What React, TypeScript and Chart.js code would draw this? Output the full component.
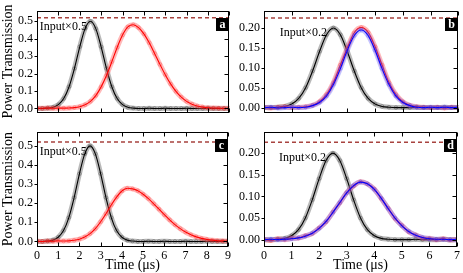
import React, { useEffect, useRef } from "react";
import { Chart, registerables } from "chart.js";

Chart.register(...registerables);

const SERIF = "'Liberation Serif', 'Times New Roman', Times, serif";
Chart.defaults.font.family = SERIF;
Chart.defaults.color = "#000";

// ---------- data ----------
const timeLeft = [0, 0.25, 0.5, 0.75, 1, 1.25, 1.5, 1.75, 2, 2.25, 2.5, 2.75, 3, 3.25, 3.5, 3.75, 4, 4.25, 4.5, 4.75, 5, 5.25, 5.5, 5.75, 6, 6.25, 6.5, 6.75, 7, 7.25, 7.5, 7.75, 8, 8.25, 8.5, 8.75, 9];
const timeRight = [0, 0.25, 0.5, 0.75, 1, 1.25, 1.5, 1.75, 2, 2.25, 2.5, 2.75, 3, 3.25, 3.5, 3.75, 4, 4.25, 4.5, 4.75, 5, 5.25, 5.5, 5.75, 6, 6.25, 6.5, 6.75, 7];

const inputLeft = [0.000, 0.000, 0.002, 0.007, 0.022, 0.057, 0.125, 0.229, 0.354, 0.458, 0.500, 0.458, 0.354, 0.229, 0.125, 0.057, 0.022, 0.007, 0.002, 0.000, 0.000, 0.001, 0.000, 0.000, 0.001, 0.000, 0.000, 0.000, 0.001, 0.000, 0.000, 0.000, 0.001, 0.000, 0.000, 0.000, 0.000];
const outputA = [0.002, 0.001, 0.003, 0.001, 0.002, 0.002, 0.003, 0.005, 0.010, 0.021, 0.041, 0.074, 0.124, 0.189, 0.268, 0.350, 0.421, 0.468, 0.480, 0.464, 0.428, 0.377, 0.316, 0.253, 0.194, 0.141, 0.098, 0.065, 0.041, 0.025, 0.014, 0.008, 0.004, 0.003, 0.002, 0.001, 0.002];
const outputC = [0.002, 0.000, 0.002, 0.001, 0.003, 0.002, 0.003, 0.006, 0.012, 0.023, 0.041, 0.067, 0.103, 0.145, 0.191, 0.232, 0.264, 0.278, 0.275, 0.265, 0.247, 0.224, 0.197, 0.169, 0.140, 0.113, 0.088, 0.067, 0.049, 0.035, 0.024, 0.016, 0.011, 0.007, 0.004, 0.003, 0.002];

const inputRight = [0.000, 0.000, 0.001, 0.003, 0.009, 0.023, 0.050, 0.092, 0.141, 0.183, 0.200, 0.183, 0.141, 0.092, 0.050, 0.023, 0.009, 0.003, 0.001, 0.000, 0.000, 0.000, 0.001, 0.000, 0.000, 0.000, 0.001, 0.000, 0.000];
const outputBRed = [0.001, -0.001, 0.001, 0.002, 0.000, 0.001, 0.002, 0.006, 0.015, 0.033, 0.063, 0.107, 0.150, 0.188, 0.201, 0.189, 0.153, 0.107, 0.063, 0.033, 0.015, 0.006, 0.002, 0.001, 0.000, 0.001, -0.001, 0.001, 0.000];
const outputBBlue = [0.000, 0.001, -0.001, 0.000, 0.001, 0.000, 0.001, 0.005, 0.013, 0.029, 0.058, 0.098, 0.144, 0.181, 0.195, 0.181, 0.144, 0.098, 0.058, 0.029, 0.013, 0.005, 0.001, 0.000, 0.001, 0.000, 0.001, 0.000, 0.001];
const outputDRed = [0.001, -0.002, 0.002, 0.000, 0.003, 0.004, 0.009, 0.014, 0.027, 0.041, 0.064, 0.085, 0.109, 0.124, 0.134, 0.129, 0.117, 0.095, 0.073, 0.049, 0.033, 0.018, 0.011, 0.004, 0.003, 0.000, 0.002, -0.001, 0.001];
const outputDBlue = [0.000, 0.001, 0.000, 0.001, 0.002, 0.004, 0.008, 0.015, 0.026, 0.042, 0.063, 0.086, 0.108, 0.125, 0.133, 0.129, 0.116, 0.096, 0.072, 0.050, 0.032, 0.019, 0.010, 0.005, 0.002, 0.001, 0.001, 0.000, 0.000];

const referenceLeft = 0.52;
const referenceRight = 0.225;

const xTicksLeft = [0, 1, 2, 3, 4, 5, 6, 7, 8, 9];
const xTicksRight = [0, 1, 2, 3, 4, 5, 6, 7];
const yTicksLeft = [0, 0.1, 0.2, 0.3, 0.4, 0.5];
const yTicksRight = [0, 0.05, 0.1, 0.15, 0.2];

const panelLetters = ["a", "b", "c", "d"];
const inputNotes = ["Input\u00d70.5", "Input\u00d70.2"];
const yTitle = "Power Transmission";
const xTitle = "Time (\u03bcs)";

// ---------- styling ----------
type Kind = "black" | "red" | "blue";
const COLORS: Record<Kind, { core: string; marker: string; band: string }> = {
  black: { core: "#000000", marker: "rgba(40,40,40,0.55)", band: "rgba(80,80,80,0.40)" },
  red: { core: "#ff0000", marker: "rgba(255,40,40,0.55)", band: "rgba(255,80,80,0.40)" },
  blue: { core: "#0000ff", marker: "rgba(70,70,255,0.55)", band: "rgba(90,90,255,0.35)" },
};
const ORDER: Record<Kind, number> = { blue: 0, red: 2, black: 4 };

type Series = { x: number[]; y: number[]; kind: Kind };
type PanelSpec = {
  letter: string;
  left: number; top: number; width: number; height: number;
  padding: { left: number; right: number; top: number; bottom: number };
  yWidth: number; xHeight: number;
  showXLabels: boolean; showYTitle: boolean;
  xMax: number; xTicks: number[];
  yMin: number; yMax: number; yTicks: number[]; decimals: number;
  series: Series[];
  reference: number;
  note: string; notePos: { x: number; y: number };
};

const panels: PanelSpec[] = [
  {
    letter: panelLetters[0], left: 0, top: 0, width: 234, height: 123,
    padding: { left: 0, right: 2, top: 1, bottom: 2 }, yWidth: 37, xHeight: 0,
    showXLabels: false, showYTitle: true, xMax: 9, xTicks: xTicksLeft,
    yMin: -0.019, yMax: 0.558, yTicks: yTicksLeft, decimals: 1,
    series: [
      { x: timeLeft, y: inputLeft, kind: "black" },
      { x: timeLeft, y: outputA, kind: "red" },
    ],
    reference: referenceLeft, note: inputNotes[0], notePos: { x: 0.13, y: 0.47 },
  },
  {
    letter: panelLetters[1], left: 234, top: 0, width: 229, height: 123,
    padding: { left: 0, right: 3, top: 1, bottom: 2 }, yWidth: 30, xHeight: 0,
    showXLabels: false, showYTitle: false, xMax: 7, xTicks: xTicksRight,
    yMin: -0.0105, yMax: 0.2421, yTicks: yTicksRight, decimals: 2,
    series: [
      { x: timeRight, y: inputRight, kind: "black" },
      { x: timeRight, y: outputBRed, kind: "red" },
      { x: timeRight, y: outputBBlue, kind: "blue" },
    ],
    reference: referenceRight, note: inputNotes[1], notePos: { x: 0.57, y: 0.188 },
  },
  {
    letter: panelLetters[2], left: 0, top: 121, width: 234, height: 152,
    padding: { left: 0, right: 2, top: 0, bottom: 0 }, yWidth: 37, xHeight: 27,
    showXLabels: true, showYTitle: true, xMax: 9, xTicks: xTicksLeft,
    yMin: -0.0238, yMax: 0.5714, yTicks: yTicksLeft, decimals: 1,
    series: [
      { x: timeLeft, y: inputLeft, kind: "black" },
      { x: timeLeft, y: outputC, kind: "red" },
    ],
    reference: referenceLeft, note: inputNotes[0], notePos: { x: 0.13, y: 0.47 },
  },
  {
    letter: panelLetters[3], left: 234, top: 121, width: 229, height: 152,
    padding: { left: 0, right: 3, top: 0, bottom: 0 }, yWidth: 30, xHeight: 27,
    showXLabels: true, showYTitle: false, xMax: 7, xTicks: xTicksRight,
    yMin: -0.0147, yMax: 0.2484, yTicks: yTicksRight, decimals: 2,
    series: [
      { x: timeRight, y: inputRight, kind: "black" },
      { x: timeRight, y: outputDRed, kind: "red" },
      { x: timeRight, y: outputDBlue, kind: "blue" },
    ],
    reference: referenceRight, note: inputNotes[1], notePos: { x: 0.54, y: 0.19 },
  },
];

function buildConfig(spec: PanelSpec): any {
  const datasets: any[] = [];
  spec.series.forEach((s) => {
    const c = COLORS[s.kind];
    const data = s.x.map((x, i) => ({ x, y: s.y[i] }));
    datasets.push({
      data,
      order: ORDER[s.kind],
      borderColor: c.core,
      borderWidth: 1.1,
      pointRadius: 1.8,
      pointBorderWidth: 0.6,
      pointBorderColor: c.marker,
      pointBackgroundColor: "rgba(0,0,0,0)",
      cubicInterpolationMode: "monotone",
    });
    datasets.push({
      data,
      order: ORDER[s.kind] + 1,
      borderColor: c.band,
      borderWidth: 5,
      pointRadius: 0,
      cubicInterpolationMode: "monotone",
    });
  });
  datasets.push({
    data: [
      { x: 0, y: spec.reference },
      { x: spec.xMax, y: spec.reference },
    ],
    order: 10,
    borderColor: "#a8433f",
    borderWidth: 1.5,
    borderDash: [4, 3],
    pointRadius: 0,
  });

  const framePlugin = {
    id: "frame" + spec.letter,
    afterDraw(chart: any) {
      const { ctx, chartArea } = chart;
      const xs = chart.scales.x;
      const ys = chart.scales.y;
      const L = Math.round(chartArea.left) + 0.5;
      const R = Math.round(chartArea.right) - 0.5;
      const T = Math.round(chartArea.top) + 0.5;
      const B = Math.round(chartArea.bottom) + 0.5;
      ctx.save();
      ctx.strokeStyle = "#000";
      ctx.lineWidth = 1;
      ctx.strokeRect(L, T, R - L, B - T);
      ctx.beginPath();
      spec.xTicks.forEach((v) => {
        const px = Math.round(xs.getPixelForValue(v)) + 0.5;
        ctx.moveTo(px, B);
        ctx.lineTo(px, B - 4);
        ctx.moveTo(px, T);
        ctx.lineTo(px, T + 4);
      });
      spec.yTicks.forEach((v) => {
        const py = Math.round(ys.getPixelForValue(v)) + 0.5;
        ctx.moveTo(L, py);
        ctx.lineTo(L - 3, py);
        ctx.moveTo(R, py);
        ctx.lineTo(R - 4, py);
      });
      ctx.stroke();

      // note
      ctx.fillStyle = "#000";
      ctx.font = `12px ${SERIF}`;
      ctx.textAlign = "left";
      ctx.textBaseline = "middle";
      ctx.fillText(spec.note, xs.getPixelForValue(spec.notePos.x), ys.getPixelForValue(spec.notePos.y));

      // letter box
      const bw = 13;
      const bx = Math.round(chartArea.right) - bw;
      const by = Math.round(chartArea.top) + 7;
      ctx.fillStyle = "#000";
      ctx.fillRect(bx, by, bw, bw);
      ctx.fillStyle = "#fff";
      ctx.font = `bold 12px ${SERIF}`;
      ctx.textAlign = "center";
      ctx.textBaseline = "middle";
      ctx.fillText(spec.letter, bx + bw / 2, by + bw / 2 + 0.5);
      ctx.restore();
    },
  };

  return {
    type: "line",
    data: { datasets },
    options: {
      responsive: false,
      animation: false,
      events: [],
      layout: { padding: spec.padding },
      plugins: { legend: { display: false }, tooltip: { enabled: false } },
      scales: {
        x: {
          type: "linear",
          min: 0,
          max: spec.xMax,
          afterBuildTicks: (s: any) => {
            s.ticks = spec.xTicks.map((v) => ({ value: v }));
          },
          afterFit: (s: any) => {
            s.height = spec.xHeight;
          },
          grid: { display: false, drawTicks: false },
          border: { display: false },
          ticks: {
            display: spec.showXLabels,
            autoSkip: false,
            maxRotation: 0,
            padding: 3,
            color: "#000",
            font: { family: SERIF, size: 12 },
            callback: (v: any) => String(v),
          },
          title: {
            display: spec.showXLabels,
            text: xTitle,
            color: "#000",
            font: { family: SERIF, size: 14, lineHeight: 1 },
            padding: { top: 0, bottom: 1 },
          },
        },
        y: {
          type: "linear",
          min: spec.yMin,
          max: spec.yMax,
          afterBuildTicks: (s: any) => {
            s.ticks = spec.yTicks.map((v) => ({ value: v }));
          },
          afterFit: (s: any) => {
            s.width = spec.yWidth;
          },
          grid: { display: false, drawTicks: false },
          border: { display: false },
          ticks: {
            autoSkip: false,
            padding: 4,
            color: "#000",
            font: { family: SERIF, size: 12 },
            callback: (v: any) => Number(v).toFixed(spec.decimals),
          },
          title: {
            display: spec.showYTitle,
            text: yTitle,
            color: "#000",
            font: { family: SERIF, size: 14, lineHeight: 1.2 },
            padding: { top: 0, bottom: 0 },
          },
        },
      },
    },
    plugins: [framePlugin],
  };
}

function Panel({ spec }: { spec: PanelSpec }) {
  const ref = useRef<HTMLCanvasElement | null>(null);
  useEffect(() => {
    if (!ref.current) return;
    const chart = new Chart(ref.current, buildConfig(spec));
    return () => chart.destroy();
  }, [spec]);
  return (
    <canvas
      ref={ref}
      width={spec.width}
      height={spec.height}
      style={{ position: "absolute", left: spec.left, top: spec.top, width: spec.width, height: spec.height }}
    />
  );
}

export default function App() {
  return (
    <div style={{ position: "fixed", left: 0, top: 0, width: 463, height: 273, background: "#fff", overflow: "hidden" }}>
      {panels.map((p) => (
        <Panel key={p.letter} spec={p} />
      ))}
    </div>
  );
}
